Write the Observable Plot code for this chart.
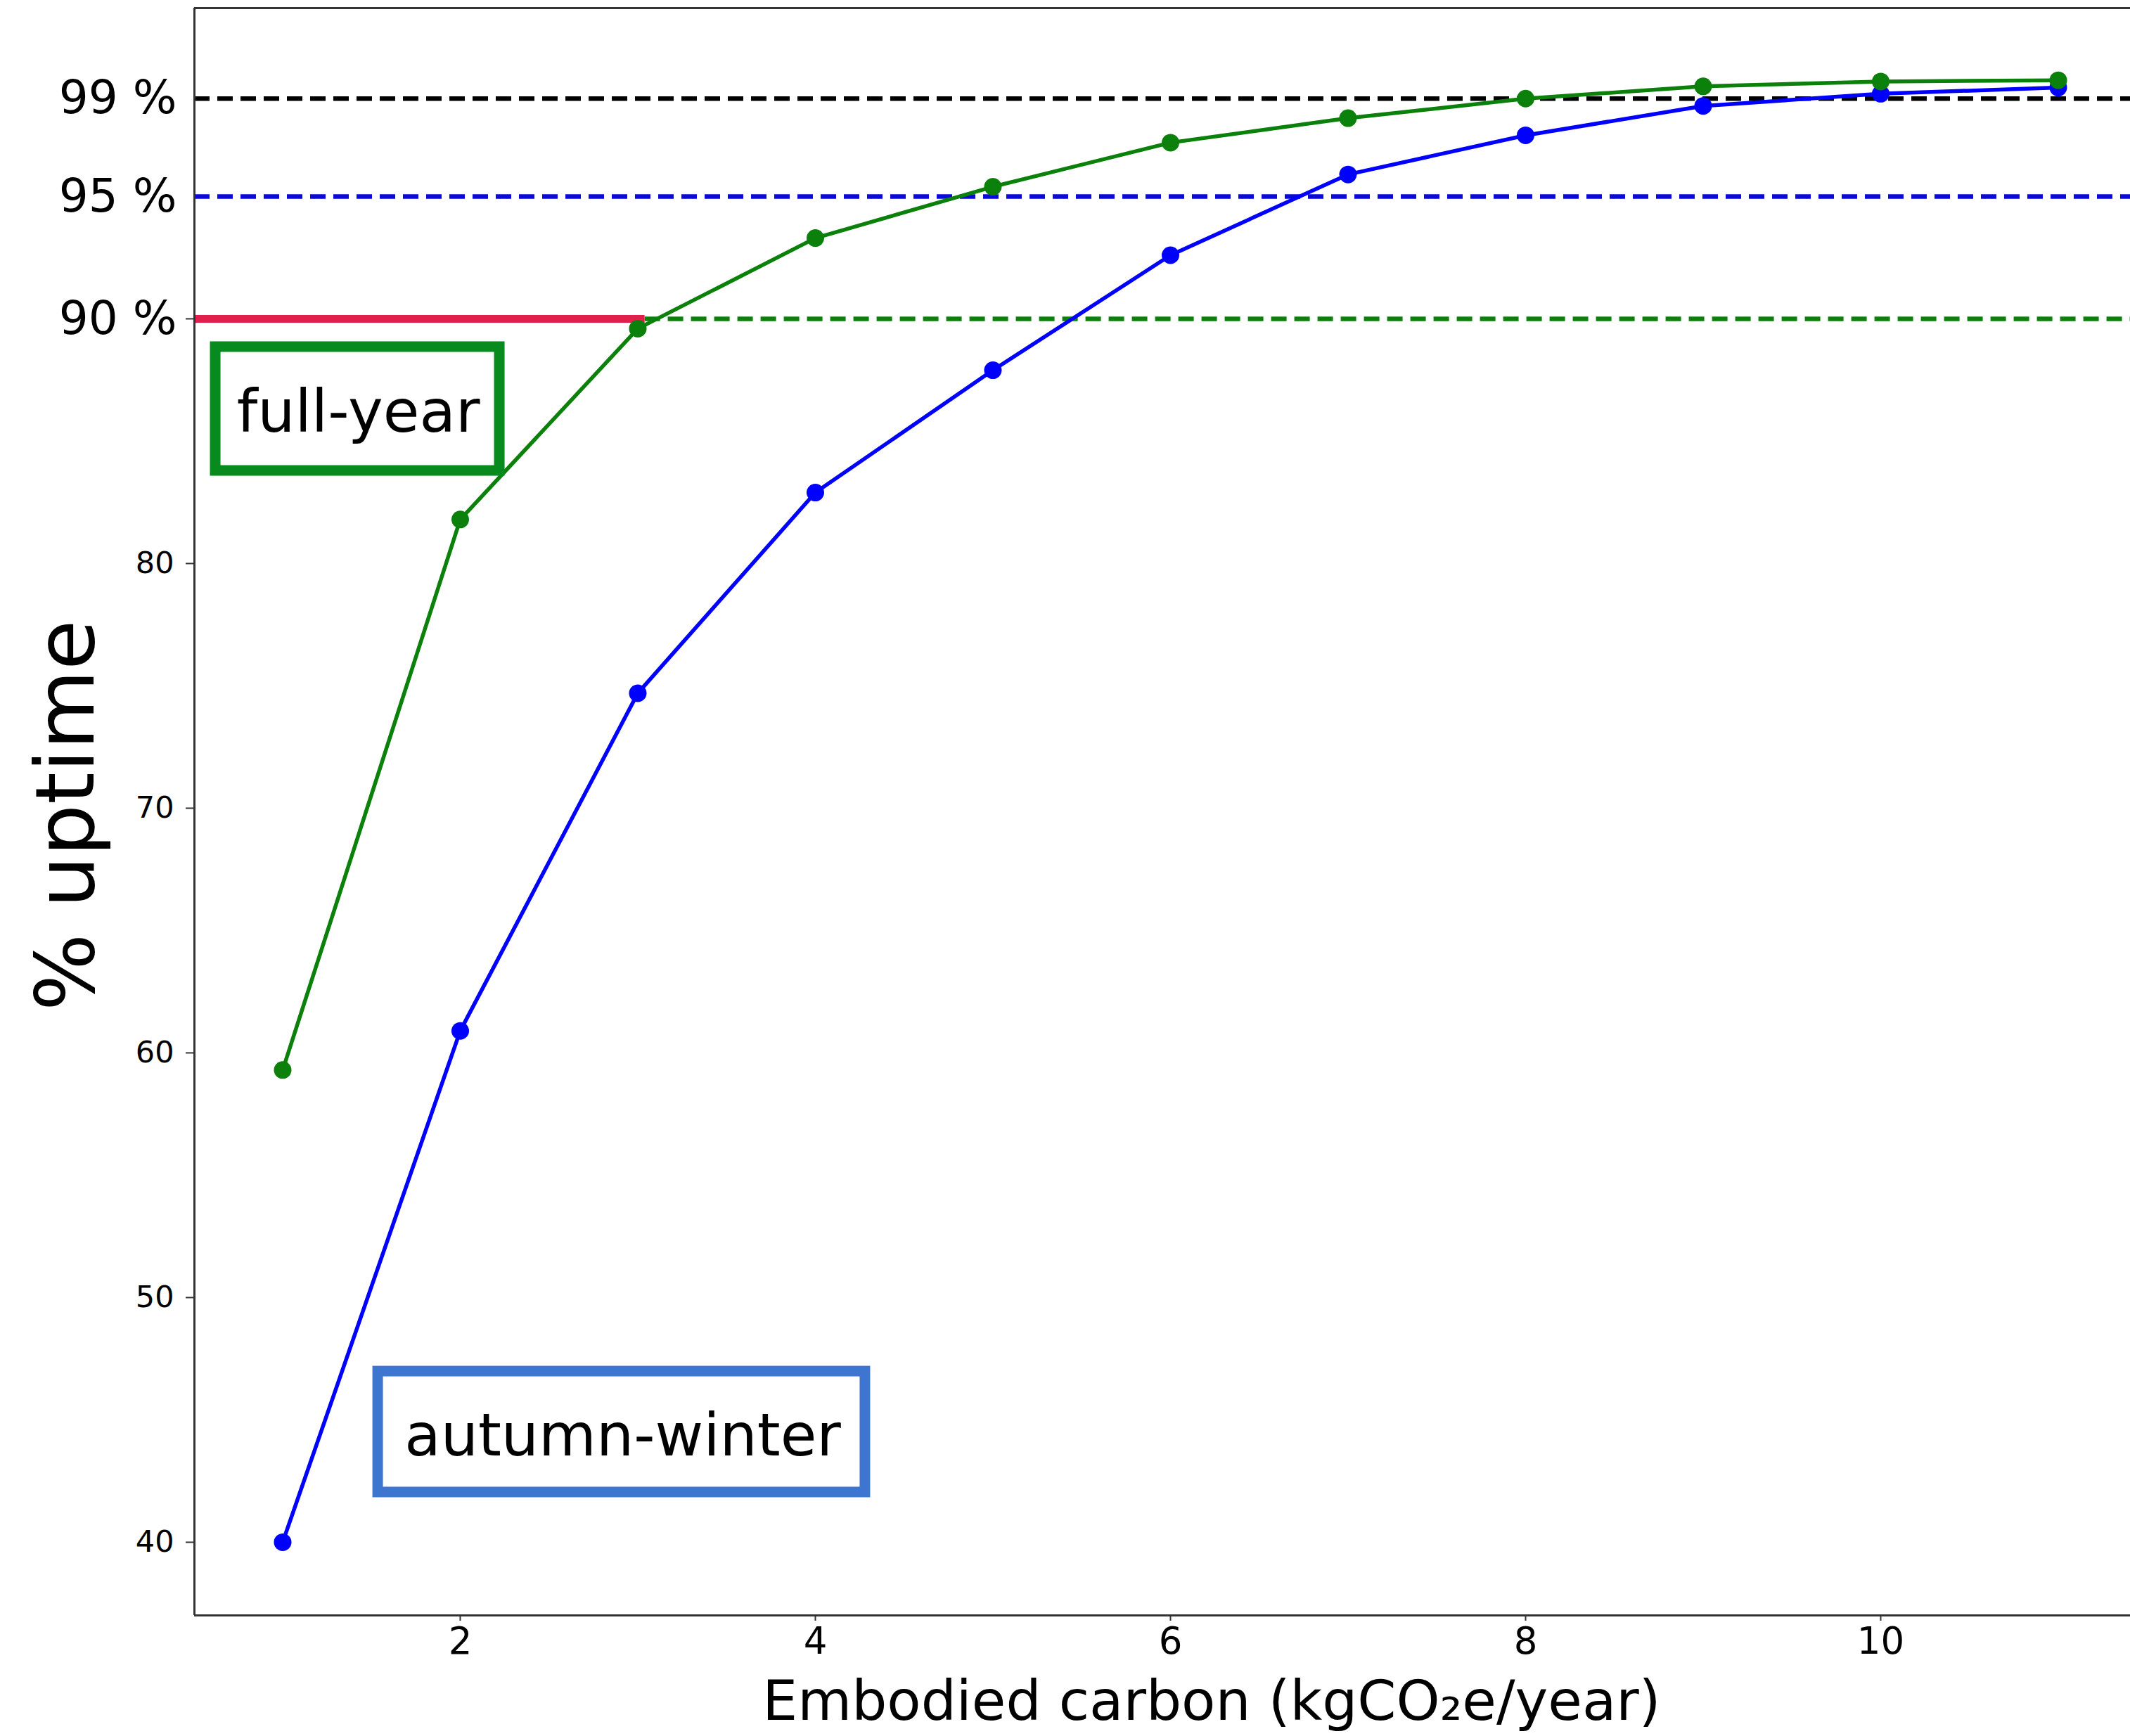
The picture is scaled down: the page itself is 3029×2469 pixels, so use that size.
<!DOCTYPE html>
<html>
<head>
<meta charset="utf-8">
<script src="https://cdn.jsdelivr.net/npm/d3@7"></script>
<script src="https://cdn.jsdelivr.net/npm/@observablehq/plot@0.6"></script>
<style>
  html, body { margin: 0; padding: 0; background: #ffffff; }
  svg { display: block; }
</style>
</head>
<body>
<div id="chart"></div>
<script>
// ---- data ----
const carbon = [1, 2, 3, 4, 5, 6, 7, 8, 9, 10, 11];
const fullYear = [59.3, 81.8, 89.6, 93.3, 95.4, 97.2, 98.2, 99.0, 99.5, 99.7, 99.75];
const autumnWinter = [40.0, 60.9, 74.7, 82.9, 87.9, 92.6, 95.9, 97.5, 98.7, 99.2, 99.45];
const xTicks = [2, 4, 6, 8, 10];
const yTicks = [40, 50, 60, 70, 80, 90];
const thresholds = [99, 95, 90];
const thresholdLabels = ["99 %", "95 %", "90 %"];
const seriesNames = ["full-year", "autumn-winter"];
const xTitle = "Embodied carbon (kgCO\u2082e/year)";
const yTitle = "% uptime";

// ---- layout ----
const W = 3029, H = 2469;
const xDomain = [0.503, 11.406];
const yDomain = [37.01, 102.7];
const FONT = "DejaVu Sans, Verdana, sans-serif";
const GREEN = "#0b800b";
const BLUE = "#0000ff";

const fullRows = carbon.map((c, i) => ({carbon: c, uptime: fullYear[i]}));
const autumnRows = carbon.map((c, i) => ({carbon: c, uptime: autumnWinter[i]}));

const boxes = [
  {name: seriesNames[0], x1: 0.622, x2: 2.222, y1: 83.79, y2: 88.85, tx: 1.426, ty: 86.15, stroke: "#078a1e"},
  {name: seriesNames[1], x1: 1.537, x2: 4.281, y1: 42.04, y2: 46.98, tx: 2.915, ty: 44.31, stroke: "#3e75d1"}
];

const dash = {strokeWidth: 6.5, strokeDasharray: "22,11"};

const chart = Plot.plot({
  width: W,
  height: H,
  marginLeft: 276,
  marginRight: 0,
  marginTop: 11,
  marginBottom: 172,
  style: {fontFamily: FONT, background: "#ffffff", color: "#000"},
  x: {domain: xDomain, label: null},
  y: {domain: yDomain, label: null},
  marks: [
    // threshold lines
    Plot.ruleY([thresholds[0]], {stroke: "#000000", ...dash}),
    Plot.ruleY([thresholds[1]], {stroke: "#0a0ad8", ...dash}),
    Plot.ruleY([thresholds[2]], {x1: 3.04, x2: xDomain[1], stroke: "#0b800b", ...dash}),
    Plot.ruleY([thresholds[2]], {x1: xDomain[0], x2: 3.04, stroke: "#e0204a", strokeWidth: 11}),

    // series
    Plot.line(autumnRows, {x: "carbon", y: "uptime", stroke: BLUE, strokeWidth: 5.5}),
    Plot.dot(autumnRows, {x: "carbon", y: "uptime", fill: BLUE, r: 12.5}),
    Plot.line(fullRows, {x: "carbon", y: "uptime", stroke: GREEN, strokeWidth: 5.5}),
    Plot.dot(fullRows, {x: "carbon", y: "uptime", fill: GREEN, r: 12.5}),

    // frame lines (left, top, bottom)
    Plot.ruleX([xDomain[0]], {stroke: "#333", strokeWidth: 3}),
    Plot.ruleY([yDomain[1], yDomain[0]], {stroke: "#333", strokeWidth: 3}),

    // axes
    Plot.axisX({ticks: xTicks, tickSize: 8, tickPadding: 9, fontSize: 53, stroke: "#333", strokeWidth: 2, fill: "#000", label: null}),
    Plot.axisY({ticks: yTicks, tickFormat: d => d === 90 ? "" : String(d), tickSize: 12, tickPadding: 17, fontSize: 43, stroke: "#333", strokeWidth: 2, fill: "#000", label: null}),

    // threshold labels
    Plot.text(thresholds, {y: d => d, text: (d, i) => thresholdLabels[i], frameAnchor: "left", textAnchor: "end", dx: -25, fontSize: 66, fill: "#000"}),

    // legend boxes
    Plot.rect(boxes, {x1: "x1", x2: "x2", y1: "y1", y2: "y2", fill: "white", stroke: "stroke", strokeWidth: 15}),
    Plot.text(boxes, {x: "tx", y: "ty", text: "name", fontSize: 84, fill: "#000"}),

    // axis titles
    Plot.text([yTitle], {y: 69.7, frameAnchor: "left", textAnchor: "middle", rotate: -90, dx: -181, fontSize: 116, fill: "#000"}),
    Plot.text([xTitle], {frameAnchor: "bottom", textAnchor: "middle", lineAnchor: "bottom", dx: 70, dy: 148, fontSize: 79, fill: "#000"})
  ]
});

document.getElementById("chart").appendChild(chart);
</script>
</body>
</html>
